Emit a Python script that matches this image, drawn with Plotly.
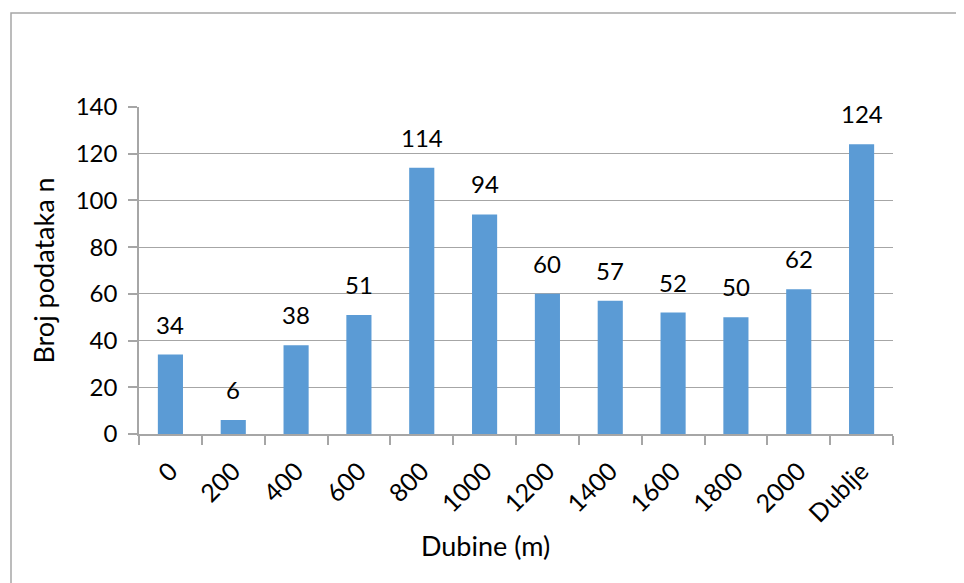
import plotly.graph_objects as go

categories = ["0", "200", "400", "600", "800", "1000", "1200", "1400", "1600", "1800", "2000", "Dublje"]
values = [34, 6, 38, 51, 114, 94, 60, 57, 52, 50, 62, 124]
y_ticks = [0, 20, 40, 60, 80, 100, 120, 140]
x_title = "Dubine (m)"
y_title = "Broj podataka n"

# page body has an 8px margin, so figure coords = page coords - 8
OFF = 8
W, H = 964, 583
L, R, T, B = 139 - OFF, 893 - OFF, 107 - OFF, 434 - OFF
pw, ph = R - L, B - T

FONT = "Lato, Open Sans, sans-serif"
grid = "#a6a6a6"

fig = go.Figure(go.Bar(
    x=categories, y=values,
    marker=dict(color="#5B9BD5", line=dict(width=0)),
    hoverinfo="x+y",
))

annotations = [
    dict(x=i, y=v, xref="x", yref="y", text=str(v), showarrow=False,
         yanchor="bottom", yshift=14, font=dict(family=FONT, size=24, color="#000000"))
    for i, v in enumerate(values)
]
annotations.append(dict(
    x=(485 - 139) / pw, y=-(545 - 434) / ph, xref="paper", yref="paper",
    xanchor="center", yanchor="middle", showarrow=False, text=x_title,
    font=dict(family=FONT, size=27, color="#000000"),
))

fig.update_layout(
    width=W, height=H,
    margin=dict(l=L, r=W - R, t=T, b=H - B, autoexpand=False),
    paper_bgcolor="white", plot_bgcolor="white",
    bargap=0.6, showlegend=False,
    font=dict(family=FONT, size=24, color="#000000"),
    xaxis=dict(
        type="category", range=[-0.5, len(categories) - 0.5],
        tickangle=-45, tickson="boundaries",
        ticks="outside", ticklen=9, tickcolor=grid, tickwidth=1.5,
        ticklabelstandoff=11,
        showline=True, linecolor=grid, linewidth=1.5, showgrid=False,
        tickfont=dict(family=FONT, size=25), automargin=False,
    ),
    yaxis=dict(
        range=[0, 140], tickvals=y_ticks,
        ticks="outside", ticklen=9, tickcolor=grid, tickwidth=1.5,
        ticklabelstandoff=6,
        showline=True, linecolor=grid, linewidth=1.5,
        showgrid=True, gridcolor=grid, gridwidth=1.2, zeroline=False,
        tickfont=dict(family=FONT, size=24), automargin=False,
        title=dict(text=y_title, font=dict(family=FONT, size=27), standoff=13),
    ),
    annotations=annotations,
    shapes=[dict(
        type="rect", xref="paper", yref="paper",
        x0=(11 - OFF - L) / pw, x1=(990 - L) / pw,
        y0=1 - (600 - T) / ph, y1=1 + (T - (13 - OFF)) / ph,
        line=dict(color="#a6a6a6", width=1.5), fillcolor="rgba(0,0,0,0)", layer="below",
    )],
)

fig.write_html("out.html")
